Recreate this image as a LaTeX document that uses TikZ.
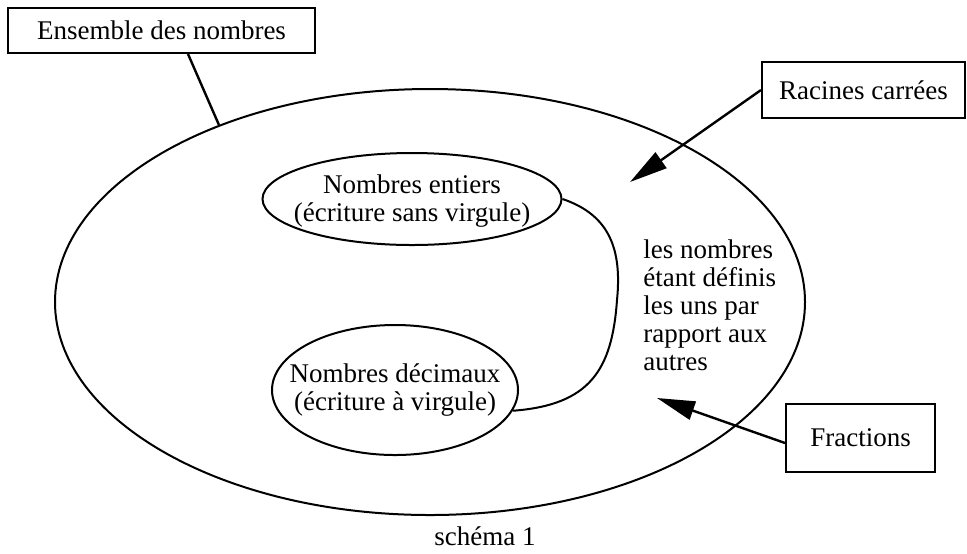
\documentclass[tikz,border=0pt]{standalone}
\usepackage{fontspec}
\setmainfont{Liberation Serif}
\usetikzlibrary{
    shapes.geometric,
    arrows.meta,
    positioning
}
\tikzstyle{cadre} = [
    draw,
    line width=1pt,
    inner sep=0pt
]
\tikzstyle{bulle} = [
    draw,
    ellipse,
    line width=1pt,
    inner sep=0pt
]
\tikzstyle{fleche} = [
    line width=1.2pt,
    -{Triangle[length=19pt,width=9.5pt]}
]

\begin{document}
\begin{tikzpicture}[x=0.5pt, y=-0.5pt, font=\fontsize{13.5pt}{14pt}\selectfont]
\useasboundingbox (0,0) rectangle (967,553);
\node[bulle, minimum width=375pt, minimum height=213pt] (tout) at (430,302) {};
\node[bulle, minimum width=149.5pt, minimum height=46pt] (entiers) at (412,199) {};
\node[bulle, minimum width=123pt, minimum height=65pt] (decimaux) at (395,390) {};
\node[align=center] (txtentiers) at (412,201) {Nombres entiers\\(écriture sans virgule)};
\node[align=center] (txtdecimaux) at (395,390) {Nombres décimaux\\(écriture à virgule)};
\node[anchor=north west, align=left, inner sep=0pt] (relation) at (643,239) {les nombres\\étant définis\\les uns par\\rapport aux\\autres};
\node[cadre, minimum width=153.5pt, minimum height=22.5pt] (ensemble) at (161.5,30.5) {Ensemble des nombres};
\node[cadre, minimum width=101.5pt, minimum height=28pt] (racines) at (863.5,90) {Racines carrées};
\node[cadre, minimum width=74.5pt, minimum height=34pt] (fractions) at (860.5,438) {Fractions};
\node (legende) at (485,536) {schéma 1};
\coordinate (pointeR) at (630,182);
\coordinate (pointeF) at (657,398);
\draw[line width=1.2pt] ([xshift=13.25pt]ensemble.south) -- (tout.140);
\draw[fleche] (racines.west) -- (pointeR);
\draw[fleche] ([yshift=-2.5pt]fractions.west) -- (pointeF);
\draw[line width=1pt] (entiers.east) .. controls (610,215) and (622,250) .. (617,300) .. controls (612,370) and (590,405) .. (decimaux.-10);
\end{tikzpicture}
\end{document}
